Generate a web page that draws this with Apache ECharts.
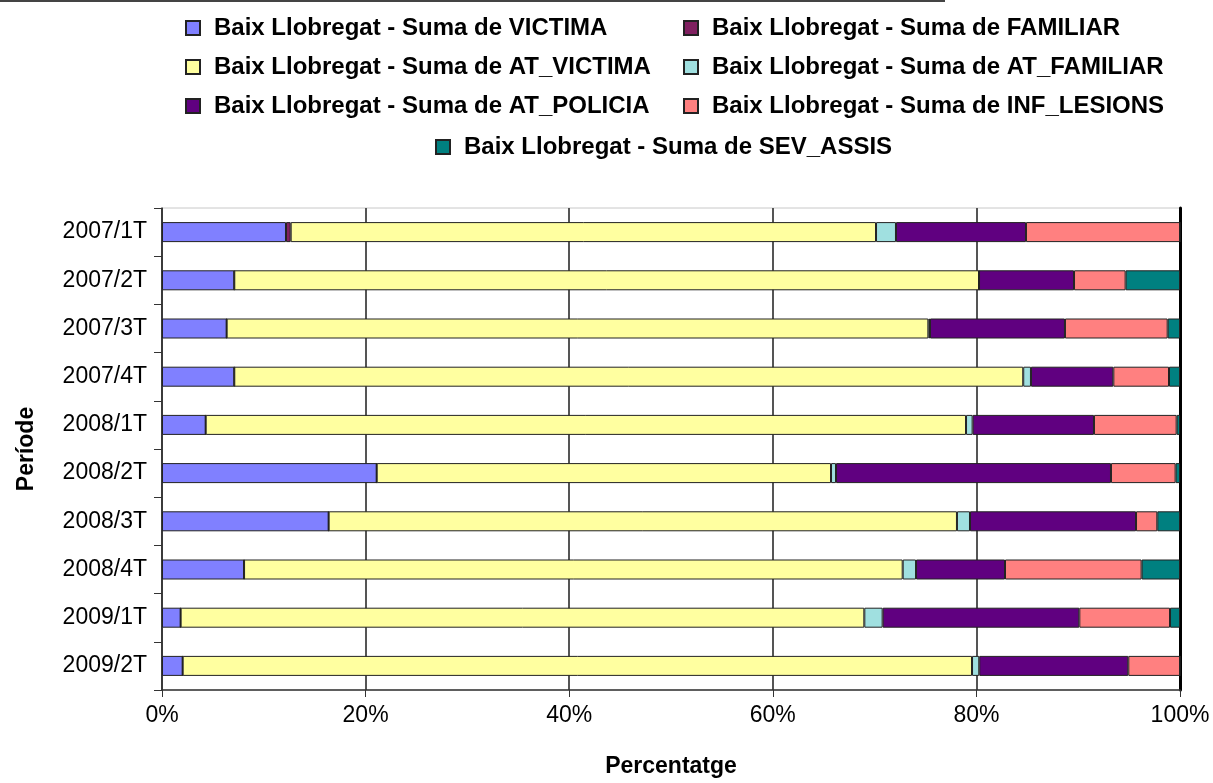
<!DOCTYPE html>
<html>
<head>
<meta charset="utf-8">
<script src="https://cdn.jsdelivr.net/npm/echarts@6/dist/echarts.min.js"></script>
<style>
  html, body { margin: 0; padding: 0; background: #fff; }
  #myChart { width: 1213px; height: 783px; }
</style>
</head>
<body>
<div id="myChart"></div>
<script>
  // periodes (de dalt a baix)
  const periodes = ['2007/1T', '2007/2T', '2007/3T', '2007/4T', '2008/1T', '2008/2T', '2008/3T', '2008/4T', '2009/1T', '2009/2T']

  // percentatges per serie
  const victima = [12.18, 7.10, 6.35, 7.10, 4.29, 21.09, 16.37, 8.06, 1.83, 2.03]
  const familiar = [0.46, 0, 0, 0, 0, 0, 0, 0, 0, 0]
  const atVictima = [57.50, 73.16, 68.93, 77.50, 74.69, 44.63, 61.72, 64.70, 67.16, 77.54]
  const atFamiliar = [1.96, 0, 0.16, 0.76, 0.65, 0.49, 1.28, 1.31, 1.80, 0.71]
  const atPolicia = [12.77, 9.33, 13.26, 8.09, 11.92, 27.01, 16.31, 8.74, 19.32, 14.64]
  const infLesions = [15.13, 5.07, 10.09, 5.47, 8.12, 6.35, 2.09, 13.42, 8.91, 5.08]
  const sevAssis = [0, 5.34, 1.21, 1.08, 0.33, 0.43, 2.23, 3.77, 0.98, 0]

  const xTicks = [0, 20, 40, 60, 80, 100]

  const series = [
    { name: 'Baix Llobregat - Suma de VICTIMA', data: victima, color: '#8080ff' },
    { name: 'Baix Llobregat - Suma de FAMILIAR', data: familiar, color: '#802060' },
    { name: 'Baix Llobregat - Suma de AT_VICTIMA', data: atVictima, color: '#ffffa0' },
    { name: 'Baix Llobregat - Suma de AT_FAMILIAR', data: atFamiliar, color: '#a0e0e0' },
    { name: 'Baix Llobregat - Suma de AT_POLICIA', data: atPolicia, color: '#600080' },
    { name: 'Baix Llobregat - Suma de INF_LESIONS', data: infLesions, color: '#ff8080' },
    { name: 'Baix Llobregat - Suma de SEV_ASSIS', data: sevAssis, color: '#008080' }
  ]

  // posicio de cada entrada de la llegenda [left, centre y]
  const legendPos = [[185, 28], [683, 28], [185, 67], [683, 67], [185, 106], [683, 106], [435, 147]]

  const font = 'Arial, "Liberation Sans", sans-serif'
  const myChart = echarts.init(document.getElementById('myChart'))

  myChart.setOption({
    animation: false,
    backgroundColor: '#fff',
    graphic: [{
      type: 'line',
      shape: { x1: 0, y1: 1, x2: 945, y2: 1 },
      style: { stroke: '#444', lineWidth: 2 }
    }],
    legend: series.map((s, i) => ({
      data: [s.name],
      left: legendPos[i][0],
      top: legendPos[i][1] - 12,
      padding: 0,
      icon: 'rect',
      itemWidth: 14,
      itemHeight: 14,
      selectedMode: false,
      textStyle: {
        fontFamily: font,
        fontSize: 24,
        fontWeight: 'bold',
        color: '#000',
        lineHeight: 24,
        padding: [0, 0, 0, 9]
      }
    })),
    grid: {
      left: 162,
      right: 33,
      top: 208,
      bottom: 86,
      show: true,
      borderColor: '#c8c8c8',
      borderWidth: 1
    },
    xAxis: {
      type: 'value',
      min: 0,
      max: 100,
      interval: 20,
      name: 'Percentatge',
      nameLocation: 'middle',
      nameGap: 65,
      nameTextStyle: { fontFamily: font, fontSize: 23, fontWeight: 'bold', color: '#000' },
      axisLine: { show: true, lineStyle: { color: '#333', width: 1.5 } },
      axisTick: { show: true, length: 7, lineStyle: { color: '#333' } },
      axisLabel: {
        margin: 14,
        fontFamily: font,
        fontSize: 23,
        color: '#000',
        formatter: v => (xTicks.indexOf(v) >= 0 ? v + '%' : '')
      },
      splitLine: { show: true, lineStyle: { color: '#555', width: 2 } }
    },
    yAxis: [{
      type: 'category',
      data: periodes,
      inverse: true,
      name: 'Període',
      nameLocation: 'middle',
      nameGap: 124,
      nameTextStyle: { fontFamily: font, fontSize: 23, fontWeight: 'bold', color: '#000' },
      axisLine: { show: true, lineStyle: { color: '#333', width: 1.5 } },
      axisTick: { show: true, length: 8, lineStyle: { color: '#333' } },
      axisLabel: { margin: 15, fontFamily: font, fontSize: 23, color: '#000' },
      splitLine: { show: false }
    }, {
      type: 'category',
      data: periodes,
      inverse: true,
      position: 'right',
      axisLine: { show: true, lineStyle: { color: '#000', width: 3 } },
      axisTick: { show: false },
      axisLabel: { show: false },
      splitLine: { show: false }
    }],
    series: series.map(s => ({
      name: s.name,
      type: 'bar',
      stack: 'total',
      barWidth: 20,
      data: s.data,
      itemStyle: { color: s.color, borderColor: '#222', borderWidth: 1 }
    }))
  })
</script>
</body>
</html>
